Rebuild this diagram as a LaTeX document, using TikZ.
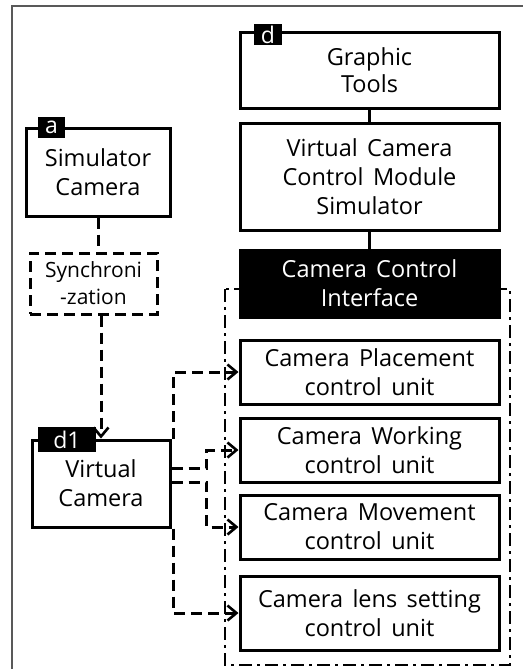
\documentclass[tikz,border=0pt]{standalone}
\usepackage{fontspec}
\setmainfont{Open Sans}
\usetikzlibrary{arrows.meta,calc}
\newcommand\myWideSpace{\spaceskip=0.4em\relax}
\begin{document}
\begin{tikzpicture}[x=1pt,y=-1pt,
  box/.style={draw, line width=3pt, rectangle, align=center, font=\fontsize{23.5}{29}\selectfont\myWideSpace, inner sep=0pt},
  tab/.style={fill=black, text=white, font=\fontsize{23}{23}\selectfont, inner sep=0pt, minimum height=21pt},
  dashline/.style={line width=3pt, dash pattern=on 11pt off 6pt},
  arr/.style={-{Straight Barb[length=9pt,width=15pt,line width=2.6pt]}},
  ddline/.style={line width=2.6pt, dash pattern=on 13pt off 5pt on 3pt off 5pt},
  solidline/.style={line width=3pt},
]
\useasboundingbox (0,0) rectangle (532,669);
\draw[gray!70!black, line width=1.2pt] (12,669) -- (12,6) -- (523,6);
\draw[ddline] (225,289) rectangle (510,665);
% right column
\node[box, minimum width=259pt, minimum height=75pt, font=\fontsize{23.5}{27}\selectfont] (gt) at (369.5,70.5) {Graphic\\Tools};
\node[box, minimum width=259pt, minimum height=107pt] (vccms) at (369.5,176.5) {Virtual Camera\\Control Module\\Simulator};
\node[box, fill=black, text=white, minimum width=259pt, minimum height=67pt] (cci) at (369.5,283.5) {Camera Control\\Interface};
\node[box, minimum width=259pt, minimum height=64pt] (cp) at (369.5,372) {Camera Placement\\control unit};
\node[box, minimum width=259pt, minimum height=64pt] (cw) at (369.5,450) {Camera Working\\control unit};
\node[box, minimum width=259pt, minimum height=64pt] (cm) at (369.5,527) {Camera Movement\\control unit};
\node[box, minimum width=259pt, minimum height=74pt] (cl) at (369.5,613) {Camera lens setting\\control unit};
% left column
\node[box, minimum width=144pt, minimum height=88pt] (sc) at (98,172) {Simulator\\Camera};
\node[box, dashline, minimum width=127pt, minimum height=61pt, font=\fontsize{21}{27}\selectfont] (sync) at (93.5,283.5) {Synchroni\\-zation};
\node[box, minimum width=138pt, minimum height=87pt] (vc) at (101,483.5) {Virtual\\Camera};
% tabs
\node[tab, minimum width=28pt] (tabd) at (268,34.5) {d};
\node[tab, minimum width=27pt] (taba) at (51.5,127.5) {a};
\node[tab, minimum width=58pt, minimum height=25pt] (tabd1) at (67,439.5) {d1};
% connectors
\draw[solidline] (gt.south) -- (vccms.north);
\draw[solidline] (vccms.south) -- (cci.north);
\draw[dashline] (sc.south) -- (sc.south |- sync.north);
\draw[dashline, arr] (vc.north |- sync.south) -- (vc.north);
\draw[dashline, arr] ($(vc.north east)+(2,0)$) |- (cp.west);
\draw[dashline, arr] ($(vc.south east)+(2,0)$) |- (cl.west);
\draw[dashline, arr] ($(vc.east)+(0,-15)$) -- ++(35,0) |- (cw.west);
\draw[dashline, arr] ($(vc.east)+(0,-1.5)$) -- ++(35,0) |- (cm.west);
\end{tikzpicture}
\end{document}
